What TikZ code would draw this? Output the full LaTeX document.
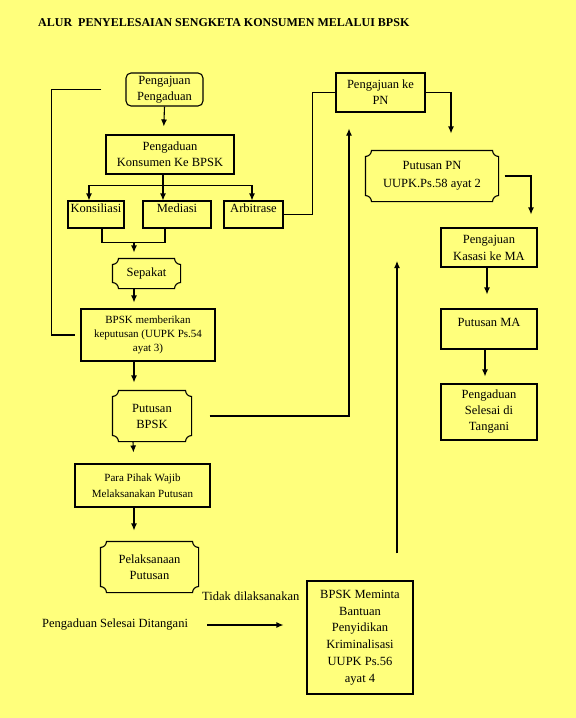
\documentclass[tikz,border=0pt]{standalone}
\usepackage{fontspec}
\setmainfont{Liberation Serif}
\usetikzlibrary{arrows.meta}

\definecolor{bgyellow}{RGB}{255,255,124}

\tikzset{
  box/.style={draw, line width=1.1pt, inner sep=0pt, align=center,
    font=\fontsize{12.5}{16}\selectfont},
  plq/.style={box, draw=none},
  conn/.style={line width=1.1pt},
  arr/.style={conn, ->, >={Latex[length=7pt,width=6pt]}}
}

% concave-cornered box round a named node
\newcommand{\drawplaque}[1]{%
  \draw[line width=1.1pt] ([xshift=6pt]#1.north west) -- ([xshift=-6pt]#1.north east)
    arc[start angle=180, end angle=270, radius=6pt] -- ([yshift=6pt]#1.south east)
    arc[start angle=90, end angle=180, radius=6pt] -- ([xshift=6pt]#1.south west)
    arc[start angle=0, end angle=90, radius=6pt] -- ([yshift=-6pt]#1.north west)
    arc[start angle=270, end angle=360, radius=6pt] -- cycle;}

\begin{document}
\begin{tikzpicture}[x=1pt, y=1pt]
    \fill[bgyellow] (0,0) rectangle (576,-718);

    \node[anchor=west, inner sep=0pt, font=\fontsize{12}{14}\selectfont\bfseries] (title) at (38,-23)
        {ALUR\ \ PENYELESAIAN SENGKETA KONSUMEN MELALUI BPSK};

    % left column
    \node[box, rounded corners=5pt, minimum width=77pt, minimum height=33pt,
        font=\fontsize{12.5}{15.5}\selectfont] (aju) at (164.5,-89.5) {Pengajuan\\Pengaduan};
    \node[box, minimum width=128pt, minimum height=39pt] (adu) at (170,-154.5) {Pengaduan\\Konsumen Ke BPSK};
    \node[box, minimum width=56pt, text height=11pt, text depth=16pt] (kons) at (96,-214.5) {Konsiliasi};
    \node[box, minimum width=68pt, text height=11pt, text depth=16pt] (med) at (177,-214.5) {Mediasi};
    \node[box, minimum width=59pt, text height=11pt, text depth=16pt] (arb) at (253.5,-214.5) {Arbitrase};
    \node[plq, minimum width=67pt, minimum height=29pt] (sep) at (146.5,-273.5) {Sepakat};
    \node[box, minimum width=134pt, minimum height=52pt,
        font=\fontsize{11}{14}\selectfont] (bpsk) at (148,-335) {BPSK memberikan\\keputusan (UUPK Ps.54\\ayat 3)};
    \node[plq, minimum width=78pt, minimum height=50pt] (put) at (152,-416) {Putusan\\BPSK};
    \node[box, minimum width=135pt, minimum height=43pt,
        font=\fontsize{11}{16}\selectfont] (para) at (142.5,-485.5) {Para Pihak Wajib\\Melaksanakan Putusan};
    \node[plq, minimum width=97pt, minimum height=50pt] (pel) at (149.5,-567) {Pelaksanaan\\Putusan};
    \node[anchor=west, inner sep=0pt, font=\fontsize{12.5}{15}\selectfont] (tidak) at (202,-596) {Tidak dilaksanakan};
    \node[anchor=west, inner sep=0pt, font=\fontsize{12.5}{15}\selectfont] (sel) at (42,-625) {Pengaduan Selesai Ditangani};
    \node[box, minimum width=106pt, minimum height=113pt,
        font=\fontsize{12.5}{16.8}\selectfont] (mint) at (360,-637.5)
        {BPSK Meminta\\Bantuan\\Penyidikan\\Kriminalisasi\\UUPK Ps.56\\ayat 4};

    % right column
    \node[box, minimum width=89pt, minimum height=39pt] (pn) at (380.5,-92.5) {Pengajuan ke\\PN};
    \node[plq, minimum width=132pt, minimum height=50pt,
        font=\fontsize{12.5}{18}\selectfont] (ppn) at (432,-176) {Putusan PN\\UUPK.Ps.58 ayat 2};
    \node[box, minimum width=96pt, minimum height=39pt,
        font=\fontsize{12.5}{17}\selectfont] (kas) at (489,-247.5) {Pengajuan\\Kasasi ke MA};
    \node[box, minimum width=96pt, text height=17pt, text depth=23pt] (ma) at (489,-329) {Putusan MA};
    \node[box, minimum width=96pt, minimum height=56pt] (done) at (489,-412) {Pengaduan\\Selesai di\\Tangani};

    \drawplaque{sep}
    \drawplaque{put}
    \drawplaque{pel}
    \drawplaque{ppn}

    \coordinate (join) at (134,-242);
    \coordinate (up) at (397,-261);

    % connectors, left column
    \draw[arr, shorten >=8pt] (aju.south) -- ([xshift=-6.5pt]adu.north);
    \draw[arr] ([xshift=-7pt]adu.south) -- ([xshift=-14pt]med.north);
    \draw[arr] ([xshift=-7pt]adu.south) ++(0,-11) -| ([xshift=-7pt]kons.north);
    \draw[arr] ([xshift=-7pt]adu.south) ++(0,-11) -| ([xshift=-1.5pt]arb.north);
    \draw[conn] ([xshift=6pt]kons.south) -- ++(0,-14) -| ([xshift=-12pt]med.south);
    \draw[arr, shorten >=6pt] (join) -- (join |- sep.north);
    \draw[arr, shorten >=6pt] ([xshift=-12.5pt]sep.south) -- ([xshift=-14pt]bpsk.north);
    \draw[arr, shorten >=8pt] ([xshift=-14pt]bpsk.south) -- ([xshift=-18pt]put.north);
    \draw[arr, shorten >=11pt] ([xshift=-19pt]put.south) -- ([xshift=-8.5pt]para.north);
    \draw[arr, shorten >=11pt] ([xshift=-8.5pt]para.south) -- ([xshift=-15.5pt]pel.north);
    \draw[conn, shorten <=24pt, shorten >=5pt] (aju.west) -- ++(-74,0) |- (bpsk.west);
    \draw[arr, shorten <=19pt, shorten >=23pt] (sel.east) -- (sel.east -| mint.west);

    % connectors, right column
    \draw[conn] (arb.east) -- ++(29,0) |- (pn.west);
    \draw[arr, shorten <=18pt, shorten >=16pt] (put.east) -| ([xshift=-31.5pt]pn.south);
    \draw[arr, shorten >=17pt] (pn.east) -| ([xshift=19pt]ppn.north);
    \draw[arr, shorten <=6pt, shorten >=13pt] (ppn.east) -| ([xshift=42pt]kas.north);
    \draw[arr, shorten >=14pt] ([xshift=-2pt]kas.south) -- ([xshift=-2pt]ma.north);
    \draw[arr, shorten >=7pt] ([xshift=-4pt]ma.south) -- ([xshift=-4pt]done.north);
    \draw[arr, shorten <=27pt] ([xshift=37pt]mint.north) -- (up);
\end{tikzpicture}
\end{document}
